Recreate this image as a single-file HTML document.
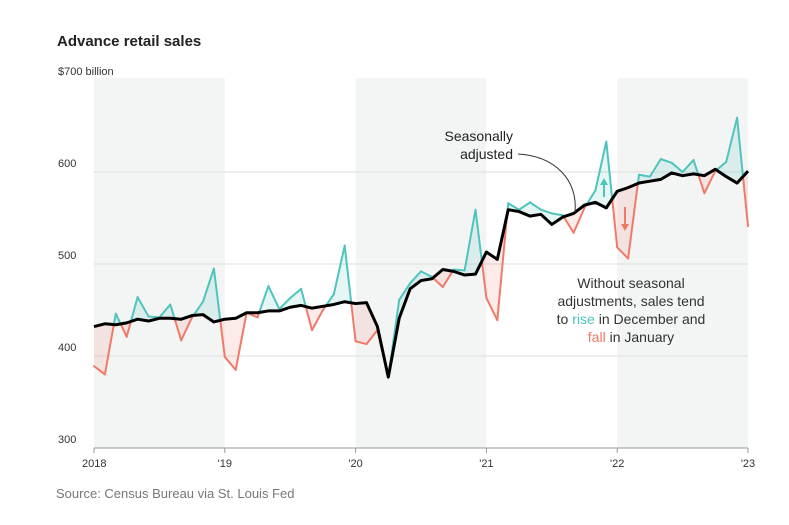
<!DOCTYPE html>
<html><head><meta charset="utf-8"><style>
body{margin:0;background:#fff;font-family:"Liberation Sans",sans-serif;}
svg text{font-family:"Liberation Sans",sans-serif;}
</style></head><body>
<svg id="c" width="789" height="520" xmlns="http://www.w3.org/2000/svg">
<text x="57" y="46" font-size="15" font-weight="bold" fill="#222">Advance retail sales</text>
<g id="bands"></g><g id="grid"></g><g id="fills"></g><g id="lines"></g>
<text x="56" y="498" font-size="13" fill="#777">Source: Census Bureau via St. Louis Fed</text>
<g>
<text x="513" y="141" font-size="14" fill="#222" text-anchor="end">Seasonally</text>
<text x="513" y="159" font-size="14" fill="#222" text-anchor="end">adjusted</text>
<path d="M518,154 C555,156 578,180 575,212" fill="none" stroke="#333" stroke-width="1"/>
</g>
<g font-size="14" text-anchor="middle" fill="#333">
<text x="631" y="288">Without seasonal</text>
<text x="631" y="306">adjustments, sales tend</text>
<text x="631" y="324">to <tspan fill="#4fc4bc">rise</tspan> in December and</text>
<text x="631" y="342"><tspan fill="#f07a6a">fall</tspan> in January</text>
</g>
<g><line x1="604" y1="197" x2="604" y2="184" stroke="#4fc4bc" stroke-width="2"/><path d="M600,185 L604,178 L608,185Z" fill="#4fc4bc"/></g>
<g><line x1="625" y1="207" x2="625" y2="225" stroke="#f07a6a" stroke-width="2"/><path d="M621,224 L625,231 L629,224Z" fill="#f07a6a"/></g>
</svg>
<script>
const saValues=[432,435,434,436,440,438,441,441,440,444,445,437,
440,441,447,447,449,449,453,455,452,454,456,459,
457,458,432,377,441,473,482,484,494,492,488,489,
513,505,559,557,552,554,543,551,555,564,567,561,
579,583,588,590,592,599,596,598,596,603,595,588,601];
const nsaValues=[389,380,446,421,464,443,442,456,417,442,459,495,
399,385,447,442,476,451,463,473,428,450,467,520,
416,413,428,377,461,479,492,486,475,494,493,559,
463,439,566,559,567,559,555,553,534,561,580,633,
518,506,597,595,614,610,600,613,577,601,611,659,541];
const yTicks=[300,400,500,600,700];
const yTickLabels=["300","400","500","600","$700 billion"];
const xYears=[2018,2019,2020,2021,2022,2023];
const xYearLabels=["2018","'19","'20","'21","'22","'23"];
const NS="http://www.w3.org/2000/svg";
const x=i=>94+i*(654/60);
const y=v=>448-(v-300)*0.92;
const xy=yr=>x((yr-2018)*12);
function mk(t,a,p){const e=document.createElementNS(NS,t);for(const k in a)e.setAttribute(k,a[k]);p.appendChild(e);return e;}
const bands=document.getElementById('bands'),grid=document.getElementById('grid'),fills=document.getElementById('fills'),lines=document.getElementById('lines');
[2018,2020,2022].forEach(yr=>{
 const r=mk('rect',{x:xy(yr),y:78,width:xy(yr+1)-xy(yr),height:370,fill:'#f3f5f5'},bands);
 
 
});
yTicks.forEach((v,i)=>{
 if(v<700){const l=mk('line',{x1:94,x2:748,y1:y(v),y2:y(v),stroke:v==300?'#999':'#ddd','stroke-width':1},grid);
 
 }
 const t=mk('text',{x:58,y:y(v)-5,'font-size':11,fill:'#333'},grid);t.textContent=yTickLabels[i];
 
 
});
xYears.forEach((yr,i)=>{
 const X=xy(yr);
 const tk=mk('line',{x1:X,x2:X,y1:448,y2:453,stroke:'#999'},grid);
 
 
 const t=mk('text',{x:X,y:467,'font-size':11,fill:'#333','text-anchor':i==0?'start':'middle'},grid);
 if(i==0)t.setAttribute('x',X-12);
 t.textContent=xYearLabels[i];
 
 
});
const TEAL='#4fc4bc',RED='#f07a6a';
for(let i=0;i<saValues.length-1;i++){
 const d0=nsaValues[i]-saValues[i],d1=nsaValues[i+1]-saValues[i+1];
 const segs=[];
 if(d0*d1<0){const t=d0/(d0-d1);segs.push([i,i+t,d0]);segs.push([i+t,i+1,d1]);}
 else segs.push([i,i+1,d0!=0?d0:d1]);
 segs.forEach(([a,b,d])=>{
  const ia=(k)=>{const f=Math.floor(k),fr=k-f;if(fr<1e-9)return[saValues[f],nsaValues[f]];return[saValues[f]+(saValues[f+1]-saValues[f])*fr,nsaValues[f]+(nsaValues[f+1]-nsaValues[f])*fr];};
  const [sa,na]=ia(a),[sb,nb]=ia(Math.min(b,60));
  const col=d>=0?TEAL:RED;
  const p=mk('polygon',{points:`${x(a)},${y(na)} ${x(b)},${y(nb)} ${x(b)},${y(sb)} ${x(a)},${y(sa)}`,fill:col,'fill-opacity':0.15},fills);
  
  
  const l=mk('line',{x1:x(a),y1:y(na),x2:x(b),y2:y(nb),stroke:col,'stroke-width':2,'stroke-linecap':'round'},fills);
  
  
 });
}
const sa=mk('polyline',{points:saValues.map((v,i)=>x(i)+','+y(v)).join(' '),fill:'none',stroke:'#000','stroke-width':3,'stroke-linejoin':'round'},lines);


</script>
</body></html>
